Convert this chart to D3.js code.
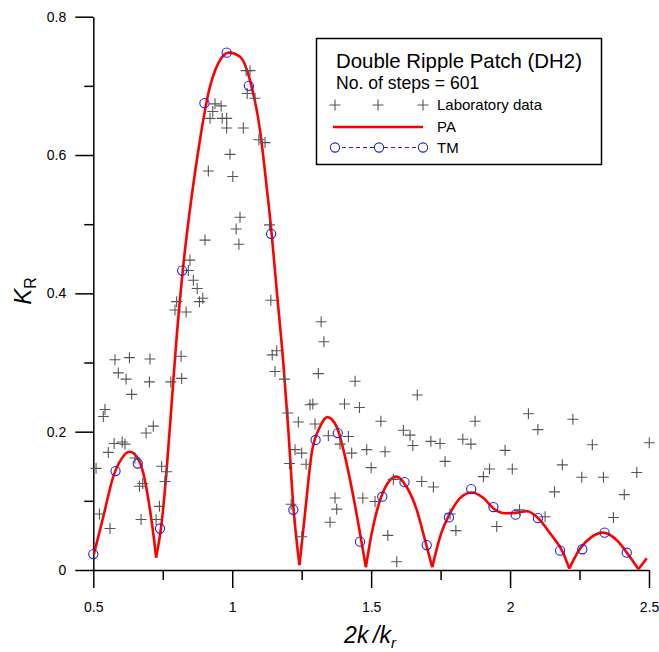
<!DOCTYPE html>
<html><head><meta charset="utf-8">
<script src="https://cdn.jsdelivr.net/npm/d3@7"></script>
<style>body{margin:0;background:#fff} svg{display:block} text{font-family:Arial,"Liberation Sans",sans-serif;fill:#000}</style>
</head><body><svg id="c" width="659" height="652"></svg>
<script>
// PA (red curve)
const paX=[0.502,0.536,0.572,0.602,0.630,0.656,0.680,0.704,0.719,0.726,0.746,0.764,0.782,0.800,0.822,0.854,0.884,0.914,0.950,0.988,1.028,1.064,1.100,1.124,1.142,1.160,1.184,1.202,1.220,1.242,1.262,1.286,1.316,1.342,1.376,1.406,1.436,1.460,1.481,1.502,1.532,1.568,1.591,1.628,1.664,1.694,1.720,1.748,1.784,1.820,1.862,1.904,1.940,1.982,2.024,2.060,2.096,2.144,2.192,2.213,2.252,2.294,2.336,2.384,2.426,2.462,2.492];
const paY=[0.023,0.077,0.135,0.161,0.171,0.164,0.140,0.087,0.043,0.018,0.068,0.145,0.241,0.337,0.433,0.540,0.622,0.689,0.733,0.748,0.742,0.708,0.636,0.554,0.486,0.405,0.299,0.202,0.092,0.007,0.082,0.169,0.207,0.221,0.207,0.164,0.106,0.053,0.004,0.053,0.101,0.130,0.135,0.120,0.087,0.043,0.004,0.048,0.082,0.104,0.112,0.104,0.089,0.082,0.083,0.085,0.077,0.053,0.024,0.002,0.031,0.048,0.054,0.043,0.022,0.001,0.017];
// TM (blue circles)
const tmX=[0.50,0.58,0.66,0.74,0.82,0.90,0.98,1.06,1.14,1.22,1.30,1.38,1.46,1.54,1.62,1.70,1.78,1.86,1.94,2.02,2.10,2.18,2.26,2.34,2.42];
const tmY=[0.023,0.143,0.154,0.060,0.433,0.675,0.748,0.700,0.486,0.087,0.188,0.198,0.041,0.106,0.127,0.036,0.076,0.117,0.091,0.080,0.075,0.028,0.030,0.054,0.025];
// Laboratory data (crosses)
const labX=[0.860,0.874,0.894,0.882,0.800,0.794,0.834,0.578,0.630,0.704,0.816,0.590,0.618,0.702,0.779,0.818,0.638,0.542,0.536,0.716,0.690,0.575,0.604,0.614,0.554,0.510,0.650,0.746,0.764,0.666,0.678,0.758,0.522,0.738,0.560,0.672,0.726,
1.064,1.050,1.054,1.082,0.938,0.960,0.930,0.920,0.964,0.980,0.980,1.040,1.096,1.118,0.992,0.914,1.002,1.028,1.014,0.902,1.024,1.134,0.848,0.842,
1.139,1.320,1.330,1.160,1.144,1.310,1.154,1.188,1.442,1.280,1.290,1.404,1.458,1.200,1.238,1.298,1.535,1.346,1.418,1.388,1.226,1.250,1.430,1.484,1.550,1.206,1.266,1.500,1.370,1.470,1.376,1.514,1.212,1.352,1.250,1.560,1.592,1.580,
1.666,1.616,1.640,1.650,1.715,1.748,1.830,1.859,1.874,1.766,1.682,1.724,1.926,1.904,1.982,2.008,2.066,2.100,2.226,2.296,2.188,2.258,2.336,2.456,2.501,2.160,2.411,2.372,2.126,2.034,1.952,1.805,1.784];
const labY=[0.419,0.407,0.393,0.388,0.388,0.376,0.373,0.304,0.307,0.305,0.309,0.285,0.276,0.272,0.272,0.277,0.254,0.232,0.222,0.208,0.198,0.183,0.185,0.182,0.170,0.147,0.162,0.150,0.142,0.121,0.125,0.128,0.081,0.092,0.060,0.073,0.073,
0.722,0.722,0.689,0.682,0.674,0.671,0.663,0.653,0.653,0.653,0.639,0.639,0.622,0.618,0.601,0.577,0.569,0.510,0.493,0.477,0.471,0.499,0.448,0.433,
0.390,0.359,0.330,0.317,0.311,0.284,0.287,0.276,0.273,0.239,0.240,0.240,0.235,0.227,0.214,0.211,0.215,0.194,0.193,0.182,0.174,0.169,0.169,0.174,0.171,0.154,0.153,0.148,0.104,0.104,0.088,0.099,0.095,0.069,0.048,0.050,0.012,0.131,
0.253,0.202,0.195,0.180,0.186,0.183,0.189,0.182,0.215,0.157,0.128,0.120,0.146,0.135,0.173,0.146,0.226,0.203,0.218,0.181,0.152,0.134,0.134,0.141,0.184,0.113,0.109,0.076,0.077,0.087,0.063,0.057,0.081];
const xTicks=[0.5,1,1.5,2,2.5];
const xMinor=[0.75,1.25,1.75,2.25];
const yTicks=[0,0.2,0.4,0.6,0.8];
const yMinor=[0.1,0.3,0.5,0.7];

const svg=d3.select("#c");
const x=d3.scaleLinear().domain([0.5,2.5]).range([93.3,649]);
const y=d3.scaleLinear().domain([0,0.8]).range([570,16.7]);

// axes
const fmt=d3.format("~g");
svg.append("g").attr("transform",`translate(0,${y(0)})`)
  .call(d3.axisBottom(x).tickValues(xTicks).tickFormat(fmt).tickSize(18).tickPadding(14).tickSizeOuter(0));
const gxm=svg.append("g").attr("transform",`translate(0,${y(0)})`)
  .call(d3.axisBottom(x).tickValues(xMinor).tickFormat("").tickSize(10));
gxm.select(".domain").remove();
svg.append("g").attr("transform",`translate(${x(0.5)},0)`)
  .call(d3.axisLeft(y).tickValues(yTicks).tickFormat(fmt).tickSize(18).tickPadding(9).tickSizeOuter(0));
const gym=svg.append("g").attr("transform",`translate(${x(0.5)},0)`)
  .call(d3.axisLeft(y).tickValues(yMinor).tickFormat("").tickSize(9));
gym.select(".domain").remove();
svg.selectAll(".domain, .tick line").attr("stroke","#000").attr("stroke-width",1.5);
svg.selectAll(".tick text").attr("font-size",14).attr("font-family","Arial,'Liberation Sans',sans-serif").attr("fill","#000");

// axis titles
const xt=svg.append("text").attr("x",370).attr("y",643).attr("text-anchor","middle")
  .attr("font-size",23).attr("font-style","italic");
xt.append("tspan").text("2k\u2009/k");
xt.append("tspan").text("r").attr("font-size",15).attr("dy",5);
const yt=svg.append("text").attr("transform","translate(31,291) rotate(-90)").attr("text-anchor","middle")
  .attr("font-size",24).attr("font-style","italic");
yt.append("tspan").text("K");
yt.append("tspan").text("R").attr("font-size",16).attr("font-style","normal").attr("dy",5);

// PA curve split at cusps
const pa=paX.map((v,i)=>[v,paY[i]]);
const cuts=[0];
for(let i=1;i<pa.length-1;i++){ if(pa[i][1]<0.03 && pa[i][1]<pa[i-1][1] && pa[i][1]<pa[i+1][1]) cuts.push(i); }
cuts.push(pa.length-1);
const line=d3.line().x(d=>x(d[0])).y(d=>y(d[1])).curve(d3.curveMonotoneX);
for(let k=0;k<cuts.length-1;k++){
  svg.append("path").datum(pa.slice(cuts[k],cuts[k+1]+1)).attr("d",line)
    .attr("fill","none").attr("stroke","#ff0000").attr("stroke-width",2.6);
}

// crosses
const cr=5.5;
const labs=svg.append("g").attr("stroke","#555").attr("stroke-width",1.1);
labX.forEach((v,i)=>{
  const cx=x(v), cy=y(labY[i]);
  labs.append("path").attr("d",`M${cx-cr},${cy}H${cx+cr}M${cx},${cy-cr}V${cy+cr}`);
});

// TM circles
svg.append("g").selectAll("circle").data(tmX).join("circle")
  .attr("cx",d=>x(d)).attr("cy",(d,i)=>y(tmY[i])).attr("r",4.6)
  .attr("fill","none").attr("stroke","#2222cc").attr("stroke-width",1.1);

// legend
const lg=svg.append("g");
lg.append("rect").attr("x",316.5).attr("y",38.5).attr("width",285).attr("height",126)
  .attr("fill","#fff").attr("stroke","#000").attr("stroke-width",1.5);
lg.append("text").attr("x",336).attr("y",68).attr("font-size",20.4).text("Double Ripple Patch (DH2)");
lg.append("text").attr("x",336).attr("y",89).attr("font-size",17.6).text("No. of steps = 601");
[335,378,423].forEach(cx=>{
  lg.append("path").attr("d",`M${cx-cr},105H${cx+cr}M${cx},${105-cr}V${105+cr}`).attr("stroke","#555").attr("stroke-width",1.1);
});
lg.append("text").attr("x",437).attr("y",110).attr("font-size",15).text("Laboratory data");
lg.append("line").attr("x1",333).attr("x2",423).attr("y1",127).attr("y2",127).attr("stroke","#ff0000").attr("stroke-width",2.6);
lg.append("text").attr("x",437).attr("y",132).attr("font-size",15).text("PA");
lg.append("line").attr("x1",335).attr("x2",423).attr("y1",147.5).attr("y2",147.5).attr("stroke","#2222cc").attr("stroke-width",1).attr("stroke-dasharray","4,3");
[335,379,423].forEach(cx=>{
  lg.append("circle").attr("cx",cx).attr("cy",147.5).attr("r",4.6).attr("fill","#fff").attr("stroke","#2222cc").attr("stroke-width",1.1);
});
lg.append("text").attr("x",437).attr("y",153).attr("font-size",15).text("TM");
</script></body></html>
